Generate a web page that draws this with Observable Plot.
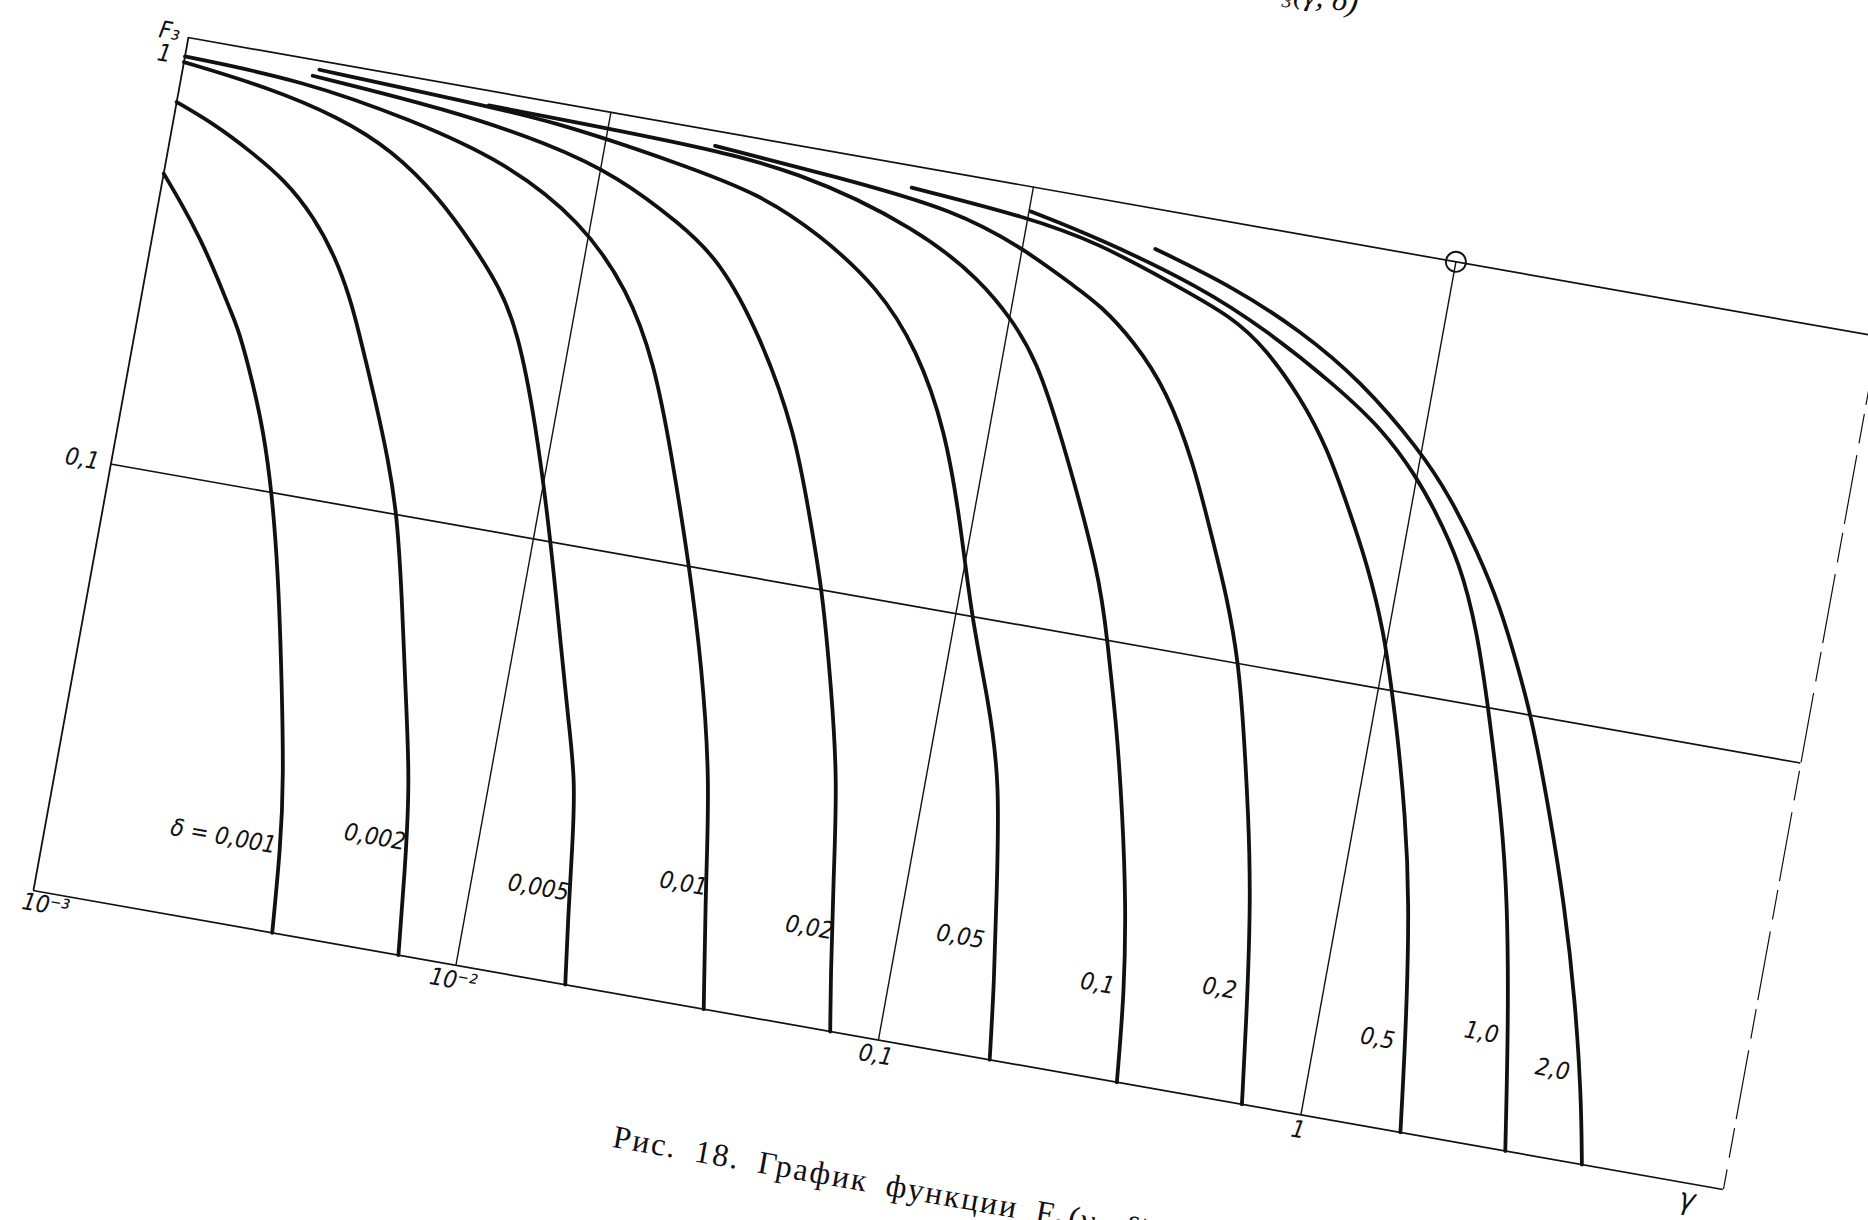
<!DOCTYPE html>
<html><head><meta charset="utf-8">
<script src="https://cdn.jsdelivr.net/npm/d3@7"></script>
<script src="https://cdn.jsdelivr.net/npm/@observablehq/plot@0.6"></script>
<style>
html,body{margin:0;padding:0;background:#fff;}
body{width:1868px;height:1220px;overflow:hidden;position:relative;}
#chart{position:absolute;left:0;top:0;width:1856px;height:987px;transform-origin:0 0;
  transform:matrix(0.98485,0.17424,-0.17878,0.98385,119.94,-35.97);}
#chart svg{position:absolute;left:0;top:0;overflow:visible;}
.caption{position:absolute;left:695px;top:1052px;white-space:nowrap;font-family:"Liberation Serif","DejaVu Serif",serif;
  font-size:32px;line-height:32px;letter-spacing:2px;word-spacing:8px;color:#111;}
.header{position:absolute;left:625px;top:-193px;width:600px;text-align:right;white-space:nowrap;
  font-family:"Liberation Serif","DejaVu Serif",serif;font-style:italic;font-size:32px;line-height:30px;color:#111;}
</style></head><body>
<div id="chart"></div>
<script>
// ---- data: F3(gamma) curves for each delta ----
const deltaLabels = ["δ = 0,001","0,002","0,005","0,01","0,02","0,05","0,1","0,2","0,5","1,0","2,0"];
const labelGamma = [0.002589,0.005766,0.01435,0.03074,0.06235,0.1396,0.3012,0.5761,1.392,2.397,3.613];
const labelF     = [0.01581,0.01814,0.01621,0.01893,0.0169,0.01854,0.01645,0.01796,0.016,0.01818,0.016];

const c0001 = [[0.001,0.480],[0.001133,0.416],[0.001286,0.355],[0.001467,0.293],[0.00164,0.245],[0.00173,0.226],[0.001949,0.176],[0.002167,0.137],[0.002405,0.100],[0.002682,0.0662],[0.002991,0.0404],[0.003375,0.0224],[0.003535,0.0158],[0.003675,0.0100]];
const c0002 = [[0.001,0.706],[0.001243,0.652],[0.00154,0.586],[0.001914,0.518],[0.002306,0.439],[0.002683,0.363],[0.003007,0.2985],[0.003253,0.2528],[0.003802,0.178],[0.004313,0.1317],[0.004757,0.100],[0.005277,0.0656],[0.005891,0.0400],[0.006566,0.0252],[0.006947,0.01625],[0.00731,0.0100]];
const c0005 = [[0.001,0.876],[0.001593,0.830],[0.002391,0.758],[0.003274,0.669],[0.004375,0.547],[0.00554,0.435],[0.006573,0.361],[0.007528,0.293],[0.009022,0.186],[0.0110,0.100],[0.01271,0.0602],[0.01432,0.0399],[0.01573,0.0294],[0.01651,0.0207],[0.01723,0.0145],[0.01815,0.0100]];
const c001  = [[0.001,0.903],[0.0019,0.888],[0.0035,0.80],[0.006,0.70],[0.0095,0.55],[0.013,0.40],[0.016,0.28],[0.019,0.18],[0.0234,0.100],[0.0275,0.060],[0.032,0.0333],[0.0345,0.0196],[0.0386,0.0100]];
const c002  = [[0.002,0.919],[0.0042,0.874],[0.0075,0.80],[0.011,0.72],[0.01606,0.595],[0.0205,0.509],[0.0271,0.360],[0.03588,0.224],[0.0424,0.142],[0.0483,0.100],[0.0558,0.0596],[0.06278,0.0374],[0.06766,0.0221],[0.07337,0.0131],[0.0769,0.0100]];
const c005  = [[0.00206,0.954],[0.00413,0.929],[0.00743,0.908],[0.01516,0.814],[0.0237,0.749],[0.03369,0.642],[0.04848,0.513],[0.06346,0.382],[0.07932,0.258],[0.0936,0.163],[0.1088,0.100],[0.129,0.0654],[0.1481,0.0435],[0.1631,0.0231],[0.1741,0.0152],[0.1834,0.0100]];
const c01   = [[0.00521,0.926],[0.01485,0.912],[0.02855,0.878],[0.0571,0.72],[0.0829,0.584],[0.1018,0.488],[0.12,0.405],[0.1453,0.287],[0.2071,0.138],[0.228,0.100],[0.262,0.063],[0.2924,0.0406],[0.323,0.0261],[0.3496,0.0163],[0.3668,0.0100]];
const c02   = [[0.0179,0.924],[0.0354,0.879],[0.0684,0.824],[0.1024,0.713],[0.1375,0.616],[0.1596,0.573],[0.1968,0.491],[0.2461,0.390],[0.304,0.273],[0.354,0.195],[0.4122,0.140],[0.467,0.100],[0.5113,0.0708],[0.5687,0.0456],[0.6249,0.0293],[0.685,0.0156],[0.725,0.0100]];
const c05   = [[0.0526,0.891],[0.1002,0.850],[0.1503,0.790],[0.2215,0.694],[0.3262,0.609],[0.4018,0.528],[0.5012,0.426],[0.6052,0.3365],[0.7295,0.2427],[0.8359,0.1897],[0.973,0.136],[1.081,0.0984],[1.149,0.0815],[1.302,0.0527],[1.443,0.0339],[1.594,0.0181],[1.72,0.0100]];
const c10   = [[0.101,0.878],[0.1496,0.811],[0.2656,0.693],[0.394,0.586],[0.5933,0.470],[0.803,0.387],[0.9913,0.315],[1.125,0.271],[1.368,0.207],[1.593,0.148],[1.829,0.0986],[2.163,0.0576],[2.424,0.0371],[2.733,0.0198],[3.046,0.0100]];
const c20   = [[0.202,0.810],[0.317,0.713],[0.470,0.604],[0.677,0.492],[0.994,0.360],[1.217,0.290],[1.475,0.225],[1.762,0.171],[2.031,0.129],[2.318,0.0982],[2.770,0.0618],[3.293,0.0381],[3.818,0.0233],[4.315,0.0143],[4.624,0.0100]];

const xTicks = [0.001, 0.01, 0.1, 1, 10];
const xTickLabels = ["10⁻³", "10⁻²", "0,1", "1", "γ"];
const yTicks = [0.01, 0.1, 1];
const yTickLabels = ["", "0,1", "1"];
const yName = "F₃";
const markerPoint = [{g: 1, F: 1}];
const captionText = "Рис. 18. График функции F₃(γ, δ)";
const headerText = "F₃(γ, δ)";

// ---- build table ----
const curveSets = [c0001,c0002,c0005,c001,c002,c005,c01,c02,c05,c10,c20];
const rows = curveSets.flatMap((pts, k) => pts.map(([g, F]) => ({s: deltaLabels[k], g, F})));
const labelRows = deltaLabels.map((t, i) => ({t, g: labelGamma[i], F: labelF[i]}));

const ink = "#111";
const labelFont = "'Liberation Sans Narrow','DejaVu Sans Condensed','Liberation Sans',sans-serif";

const plot = Plot.plot({
  width: 1856, height: 987,
  marginLeft: 80, marginRight: 60, marginTop: 60, marginBottom: 60,
  x: {type: "log", domain: [xTicks[0], xTicks[xTicks.length - 1]], axis: null},
  y: {type: "log", domain: [yTicks[0], yTicks[yTicks.length - 1]], axis: null},
  style: {background: "none", overflow: "visible", fontFamily: labelFont, fontSize: "24px", fontStyle: "italic", color: ink},
  marks: [
    // frame & grid
    Plot.ruleY(yTicks, {stroke: ink, strokeWidth: 1.7}),
    Plot.ruleX(xTicks.slice(0, 4), {stroke: ink, strokeWidth: d => d === xTicks[0] ? 1.8 : 1.4}),
    Plot.ruleX(xTicks.slice(4), {stroke: ink, strokeWidth: 1.2, strokeDasharray: "70 9 30 12"}),
    // curves
    Plot.line(rows, {x: "g", y: "F", z: "s", curve: "basis", stroke: ink, strokeWidth: 3.8,
      strokeLinecap: "round", strokeLinejoin: "round"}),
    // marker circle
    Plot.dot(markerPoint, {x: "g", y: "F", r: 10, stroke: ink, strokeWidth: 1.9, fill: "none"}),
    // curve labels
    Plot.text(labelRows, {x: "g", y: "F", text: "t", fill: ink, fontSize: 24}),
    // x tick labels
    Plot.text(xTicks.slice(1, 4), {x: d => d, text: (d, i) => xTickLabels[i + 1], frameAnchor: "bottom", dy: 23, fill: ink}),
    Plot.text(xTicks.slice(0, 1), {x: d => d, text: () => xTickLabels[0], frameAnchor: "bottom", textAnchor: "start", dx: -9, dy: 20, fill: ink}),
    Plot.text(xTicks.slice(4), {x: d => d, text: () => xTickLabels[4], frameAnchor: "bottom", textAnchor: "end", dx: -26, dy: 26, fill: ink, fontSize: 30}),
    // y tick labels
    Plot.text(yTicks.slice(1, 2), {y: d => d, text: () => yTickLabels[1], frameAnchor: "left", textAnchor: "end", dx: -12, fill: ink}),
    Plot.text(yTicks.slice(2), {y: d => d, text: () => yTickLabels[2], frameAnchor: "left", textAnchor: "end", dx: -14, dy: 20, fill: ink}),
    Plot.text(yTicks.slice(2), {y: d => d, text: () => yName, frameAnchor: "left", textAnchor: "end", dx: -9, dy: -3, fill: ink})
  ]
});

const chart = document.getElementById("chart");
chart.appendChild(plot);
const cap = document.createElement("div");
cap.className = "caption";
cap.textContent = captionText;
chart.appendChild(cap);
const head = document.createElement("div");
head.className = "header";
head.textContent = headerText;
chart.appendChild(head);
</script>
</body></html>
